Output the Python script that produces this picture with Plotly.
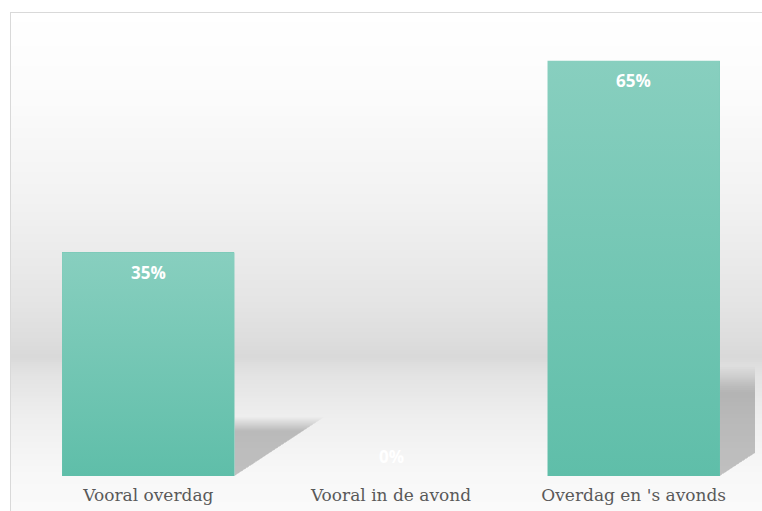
import plotly.graph_objects as go

# ---- data ----
categories = ["Vooral overdag", "Vooral in de avond", "Overdag en 's avonds"]
values = [35, 0, 65]
value_labels = ["35%", "0%", "65%"]

# ---- layout constants ----
W, H = 762, 511
L, R, T, B = 27, 7, 16, 35
PW, PH = W - L - R, H - T - B
BAR_W = 0.71
BAR_BOTTOM = "#5fbea9"
BAR_TOP = "#88cfbf"


def xp(px):
    return (px - L) / PW


def yp(py):
    return (H - B - py) / PH


# background gradient stops (pixel y, grey level)
bg_stops = [(12, 255), (100, 251), (200, 242), (300, 229), (340, 221), (357, 217),
            (374, 227), (420, 239), (476, 248), (511, 250)]


def grey_at(py):
    for (y0, g0), (y1, g1) in zip(bg_stops[:-1], bg_stops[1:]):
        if y0 <= py <= y1:
            t = (py - y0) / (y1 - y0)
            return g0 + (g1 - g0) * t
    return bg_stops[-1][1]


shapes = []
step = 2
py = 12
while py < H:
    g = int(round(grey_at(py + step / 2)))
    shapes.append(dict(type="rect", xref="paper", yref="paper", layer="below",
                       x0=xp(10), x1=xp(W + 2), y0=yp(py), y1=yp(min(py + step, H + 2)),
                       fillcolor=f"rgb({g},{g},{g})", line=dict(width=0)))
    py += step
# chart frame
shapes.append(dict(type="line", xref="paper", yref="paper", layer="below",
                   x0=xp(10), x1=xp(W + 2), y0=yp(12.5), y1=yp(12.5),
                   line=dict(color="#d9d9d9", width=1)))
shapes.append(dict(type="line", xref="paper", yref="paper", layer="below",
                   x0=xp(10.5), x1=xp(10.5), y0=yp(12), y1=yp(H + 2),
                   line=dict(color="#d9d9d9", width=1)))

idx = list(range(len(categories)))

fig = go.Figure()

# bars
fig.add_trace(go.Bar(x=idx, y=values, width=BAR_W, marker=dict(color="#74c6b4", line=dict(width=0)),
                     hoverinfo="skip", showlegend=False))

# perspective shadows beside the bars (soft edges from stacked layers)
n_layers = 14
for i, v in zip(idx, values):
    if v <= 0:
        continue
    xr = i + BAR_W / 2
    h = 0.235 * v
    dx = 0.33 * v / 35
    for k in range(n_layers):
        s = 1.12 - 0.26 * k / (n_layers - 1)
        fig.add_trace(go.Scatter(
            x=[xr, xr, xr + s * dx, xr], y=[0, s * h, s * h, 0],
            mode="lines", fill="toself", fillcolor="rgba(0,0,0,0.017)",
            line=dict(width=0), hoverinfo="skip", showlegend=False))

# vertical gradient on the bars
for i, v in zip(idx, values):
    if v <= 0:
        continue
    x0, x1 = i - BAR_W / 2, i + BAR_W / 2
    fig.add_trace(go.Scatter(
        x=[x0, x1, x1, x0, x0], y=[0, 0, v, v, 0], mode="lines", fill="toself",
        fillgradient=dict(type="vertical", colorscale=[[0, BAR_BOTTOM], [1, BAR_TOP]]),
        line=dict(width=0), hoverinfo="skip", showlegend=False))

annotations = []
for i, v, lab in zip(idx, values, value_labels):
    annotations.append(dict(x=i, y=v, xref="x", yref="y", text=lab, showarrow=False,
                            yanchor="middle", yshift=-20 if v > 0 else 20,
                            font=dict(family="Open Sans", size=17, color="white",
                                      weight="bold")))

fig.update_layout(
    width=W, height=H,
    margin=dict(l=L, r=R, t=T, b=B, pad=0),
    paper_bgcolor="white",
    plot_bgcolor="rgba(0,0,0,0)",
    shapes=shapes,
    annotations=annotations,
    bargap=0,
    xaxis=dict(range=[-0.5, len(categories) - 0.5], tickvals=idx, ticktext=categories,
               showgrid=False, zeroline=False, showline=False, ticks="",
               ticklabelstandoff=7,
               tickfont=dict(family="DejaVu Serif", size=17, color="#595959"),
               fixedrange=True),
    yaxis=dict(range=[0, 72], visible=False, showgrid=False, zeroline=False, fixedrange=True),
    hovermode=False,
)

fig.write_html("out.html")
